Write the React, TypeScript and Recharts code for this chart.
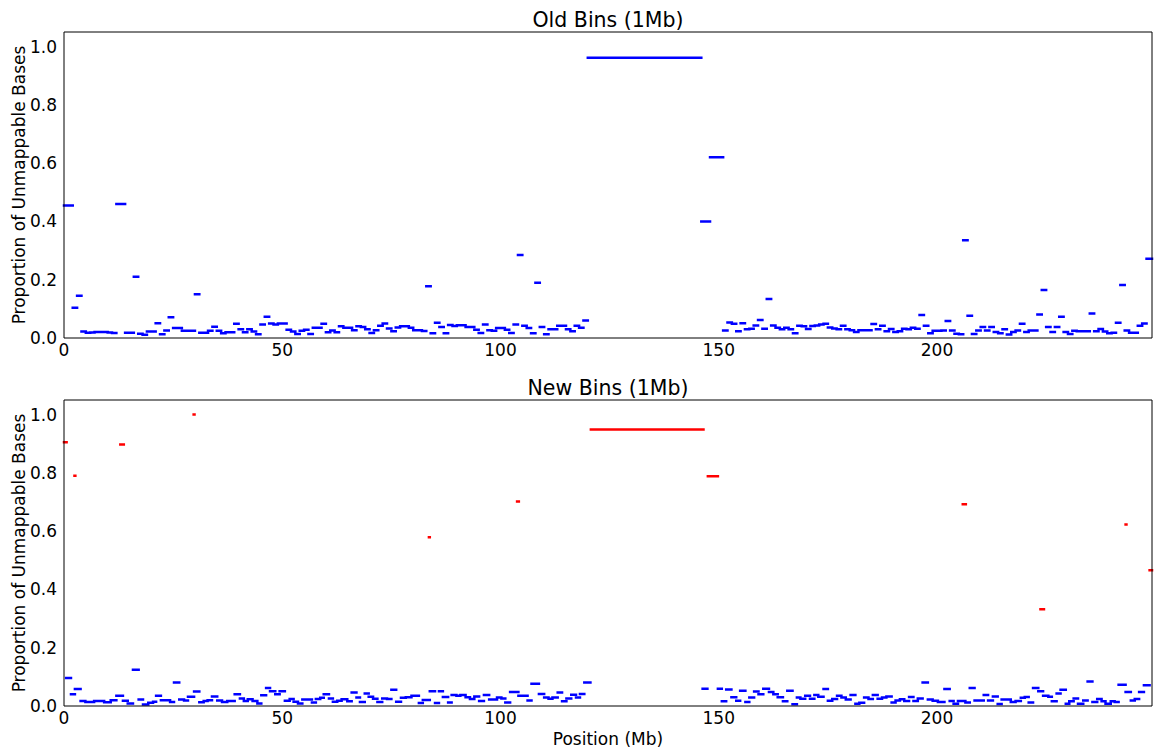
import React from 'react';
import { LineChart, Line, XAxis, YAxis } from 'recharts';

// chromosome 1 length in Mb
const CHROM_END = 249.25;

const xTicks = [0, 50, 100, 150, 200];
const yTicks = [0, 0.2, 0.4, 0.6, 0.8, 1.0];

// old 1Mb bins, p-arm side, bin i covers [i, i+1)
const oldLeftValues = [
  0.455, 0.455, 0.104, 0.145, 0.022, 0.018, 0.019, 0.021, 0.021, 0.021,
  0.019, 0.017, 0.46, 0.46, 0.018, 0.018, 0.21, 0.015, 0.011, 0.022,
  0.022, 0.051, 0.013, 0.026, 0.071, 0.034, 0.034, 0.025, 0.025, 0.025,
  0.15, 0.018, 0.018, 0.025, 0.039, 0.025, 0.016, 0.02, 0.02, 0.049,
  0.03, 0.02, 0.03, 0.022, 0.013, 0.046, 0.073, 0.05, 0.046, 0.05,
  0.05, 0.028, 0.022, 0.014, 0.025, 0.028, 0.014, 0.035, 0.035, 0.049,
  0.02, 0.026, 0.02, 0.04, 0.035, 0.035, 0.027, 0.04, 0.038, 0.03,
  0.017, 0.027, 0.042, 0.05, 0.033, 0.023, 0.036, 0.04, 0.04, 0.035,
  0.027, 0.027, 0.024, 0.178, 0.016, 0.052, 0.038, 0.016, 0.045, 0.041,
  0.044, 0.044, 0.038, 0.038, 0.028, 0.017, 0.046, 0.027, 0.025, 0.034,
  0.034, 0.028, 0.017, 0.046, 0.285, 0.042, 0.034, 0.016, 0.19, 0.038,
  0.013, 0.03, 0.03, 0.042, 0.042, 0.03, 0.023, 0.042, 0.035, 0.06,
];

// centromere / heterochromatin block
const oldGapStart = 120;
const oldGapEnd = 146;
const oldGapValue = 0.962;

// old 1Mb bins, q-arm side, starting at 146 Mb
const OLD_RIGHT_START = 146;
const oldRightValues = [
  0.40, 0.40, 0.62, 0.62, 0.62,
  0.026, 0.053, 0.049, 0.023, 0.051, 0.03, 0.032, 0.043, 0.062, 0.032,
  0.134, 0.043, 0.035, 0.03, 0.035, 0.03, 0.016, 0.042, 0.04, 0.031,
  0.041, 0.043, 0.046, 0.049, 0.036, 0.033, 0.03, 0.042, 0.03, 0.027,
  0.021, 0.027, 0.027, 0.027, 0.048, 0.03, 0.042, 0.023, 0.031, 0.021,
  0.023, 0.032, 0.03, 0.035, 0.032, 0.079,
  0.042, 0.016, 0.025, 0.025, 0.026, 0.058, 0.026, 0.015, 0.013, 0.335,
  0.076, 0.014, 0.026, 0.038, 0.026, 0.038, 0.021, 0.016, 0.03, 0.012,
  0.021, 0.026, 0.049, 0.021, 0.026, 0.026, 0.081, 0.165, 0.038, 0.021,
  0.038, 0.073, 0.021, 0.014, 0.025, 0.023, 0.023, 0.023, 0.084, 0.023,
  0.031, 0.022, 0.016, 0.018, 0.052, 0.182, 0.026, 0.018, 0.018, 0.042,
  0.05, 0.272, 0.272,
];

// new variable-size bins: each runs from its start to the next start (null = no bin)
const newBinStarts = [
  0.5, 1.6, 2.5, 3.8, 4.9, 6.9, 9.2, 10.7, 12.0, 13.5,
  14.6, 15.8, 17.1, 18.1, 19.3, 20.4, 21.1, 22.2, 24.3, 25.2,
  26.4, 27.5, 28.4, 29.8, 31.0, 32.0, 32.9, 33.9, 35.1, 36.2,
  37.4, 39.1, 40.3, 41.2, 42.1, 43.2, 44.3, 45.2, 46.3, 47.2,
  48.4, 49.4, 50.6, 51.7, 52.6, 53.6, 54.6, 56.8, 57.7, 58.7,
  59.5, 60.7, 61.6, 62.6, 63.6, 64.9, 65.9, 67.0, 67.8, 68.9,
  69.8, 70.8, 71.8, 72.9, 74.0, 75.0, 76.1, 77.2, 78.3, 79.6,
  81.3, 82.2, 83.8, 85.0, 85.9, 86.8, 88.0, 88.8, 89.9, 90.8,
  92.0, 93.0, 94.0, 95.1, 96.2, 97.4, 99.2, 100.2, 101.1, 102.2,
  104.1, 106.2, 107.1, 108.8, 110.0, 111.0, 111.9, 113.1, 114.1, 115.1,
  116.2, 117.3, 118.2, 119.2, 120.6, 146.3, 147.4, 149.8, 150.7, 151.7,
  152.9, 154.0, 154.9, 156.1, 157.0, 158.1, 159.1, 160.2, 161.5, 162.5,
  163.5, 164.7, 165.7, 166.9, 167.9, 168.7, 169.8, 170.9, 171.9, 172.8,
  174.0, 175.0, 176.0, 177.1, 178.1, 179.1, 180.2, 181.3, 182.2, 183.3,
  184.3, 185.3, 186.4, 187.4, 188.4, 189.6, 190.5, 191.5, 192.5, 193.6,
  194.6, 195.6, 196.7, 197.9, 199.0, 200.2, 201.7, 202.9, 203.8, 204.8,
  206.5, 207.5, 208.6, 210.7, 211.7, 212.8, 213.9, 214.8, 216.9, 218.0,
  219.2, 220.1, 221.0, 222.0, 223.2, 224.3, 225.5, 226.3, 227.4, 228.3,
  229.5, 230.3, 231.3, 232.3, 233.5, 234.5, 235.6, 236.7, 237.7, 238.6,
  239.8, 240.7, 241.6, 243.2, 244.4, 245.3, 246.3, 247.4, 248.7,
];

const newBinValues: (number | null)[] = [
  0.096, 0.04, 0.058, 0.017, 0.014, 0.017, 0.013, 0.02, 0.035, 0.018,
  0.009, 0.124, 0.022, 0.005, 0.011, 0.015, 0.035, 0.02, 0.014, 0.081,
  0.022, 0.019, 0.032, 0.05, 0.013, 0.017, 0.02, 0.033, 0.019, 0.014,
  0.017, 0.04, 0.026, 0.017, 0.023, 0.017, 0.009, 0.037, 0.062, 0.051,
  0.04, 0.051, 0.018, 0.024, 0.015, 0.009, 0.022, 0.012, 0.024, 0.028,
  0.04, 0.026, 0.015, 0.018, 0.023, 0.016, 0.046, 0.029, 0.014, 0.043,
  0.032, 0.025, 0.014, 0.026, 0.024, 0.056, 0.015, 0.028, 0.03, 0.035,
  0.01, 0.021, 0.051, 0.01, 0.051, 0.031, 0.012, 0.038, 0.035, 0.038,
  0.03, 0.024, 0.033, 0.017, 0.038, 0.022, 0.029, 0.026, 0.012, 0.048,
  0.035, 0.019, 0.076, 0.041, 0.029, 0.025, 0.029, 0.046, 0.016, 0.026,
  0.039, 0.029, 0.041, 0.081, null, 0.059, null, 0.059, 0.016, 0.057,
  0.03, 0.018, 0.052, 0.014, 0.029, 0.05, 0.04, 0.059, 0.048, 0.04,
  0.03, 0.016, 0.052, 0.006, 0.029, 0.025, 0.035, 0.025, 0.038, 0.032,
  0.058, 0.018, 0.024, 0.035, 0.029, 0.022, 0.038, 0.008, 0.011, 0.029,
  0.024, 0.038, 0.025, 0.029, 0.033, 0.012, 0.019, 0.023, 0.017, 0.031,
  0.017, 0.026, 0.081, 0.022, 0.018, 0.014, 0.058, 0.017, 0.008, 0.017,
  0.012, 0.062, 0.019, 0.038, 0.019, 0.033, 0.007, 0.022, 0.014, 0.017,
  0.028, 0.031, 0.012, 0.062, 0.051, 0.035, 0.032, 0.016, 0.043, 0.056,
  0.008, 0.016, 0.026, 0.008, 0.019, 0.084, 0.014, 0.024, 0.016, 0.008,
  0.016, 0.014, 0.073, 0.048, 0.019, 0.024, 0.048, 0.071, null,
];

// flagged new bins, drawn in red
const flaggedStarts = [0, 2.4, 12.9, 29.7, 83.6, 103.8, 120.7, 147.5, 205.9, 223.7, 243.2, 248.7];
const flaggedEnds = [0.6, 2.6, 13.7, 29.9, 83.8, 104.2, 146.5, 149.8, 206.6, 224.5, 243.4, 249.25];
const flaggedValues = [0.905, 0.79, 0.897, 1.0, 0.579, 0.702, 0.949, 0.788, 0.692, 0.332, 0.623, 0.466];

const FONT = '"DejaVu Sans", sans-serif';
const BLUE = '#0000ff';
const RED = '#ff0000';

type Seg = [number, number, number];
type Row = { x: number; [k: string]: number | null };

// two points per bin plus a null so neighbouring bins are not joined
function segRows(segs: Seg[], key: string): Row[] {
  const rows: Row[] = [];
  segs.forEach(([s, e, v]) => {
    rows.push({ x: s, [key]: v }, { x: e, [key]: v }, { x: e, [key]: null });
  });
  return rows;
}

const oldSegs: Seg[] = [
  ...oldLeftValues.map((v, i): Seg => [i, i + 1, v]),
  [oldGapStart, oldGapEnd, oldGapValue],
  ...oldRightValues.map((v, i): Seg => [
    OLD_RIGHT_START + i,
    Math.min(OLD_RIGHT_START + i + 1, CHROM_END),
    v,
  ]),
];

const newSegs: Seg[] = [];
newBinValues.forEach((v, i) => {
  if (v !== null) newSegs.push([newBinStarts[i], newBinStarts[i + 1], v]);
});

const flaggedSegs: Seg[] = flaggedValues.map((v, i): Seg => [flaggedStarts[i], flaggedEnds[i], v]);

const oldRows = segRows(oldSegs, 'old');
const newRows = [...segRows(newSegs, 'blue'), ...segRows(flaggedSegs, 'red')];

const tickStyle = { fill: '#000', fontSize: 17, fontFamily: FONT };
const frame = { stroke: '#000', strokeWidth: 1 };

const Panel = ({ rows, top, children }: { rows: Row[]; top: number; children: React.ReactNode }) => (
  <div style={{ position: 'absolute', left: 0, top }}>
    <LineChart width={1154} height={370} data={rows} margin={{ top: 32, right: 2, bottom: 0, left: 0 }}>
      <XAxis
        dataKey="x"
        type="number"
        domain={[0, CHROM_END]}
        ticks={xTicks}
        interval={0}
        height={32}
        axisLine={false}
        tickLine={false}
        tickSize={0}
        tickMargin={6}
        tick={tickStyle}
      />
      <XAxis xAxisId="frameTop" orientation="top" mirror type="number" domain={[0, CHROM_END]} ticks={xTicks}
        interval={0} tick={false} tickSize={5} axisLine={frame} tickLine={frame} />
      <XAxis xAxisId="frameBottom" orientation="bottom" mirror type="number" domain={[0, CHROM_END]} ticks={xTicks}
        interval={0} tick={false} tickSize={5} axisLine={frame} tickLine={frame} />
      <YAxis
        type="number"
        domain={[0, 1.05]}
        ticks={yTicks}
        interval={0}
        width={64}
        axisLine={false}
        tickLine={false}
        tickSize={0}
        tickMargin={7}
        tick={tickStyle}
        tickFormatter={(v: number) => v.toFixed(1)}
      />
      <YAxis yAxisId="frameLeft" orientation="left" mirror type="number" domain={[0, 1.05]} ticks={yTicks}
        interval={0} tick={false} tickSize={5} axisLine={frame} tickLine={frame} />
      <YAxis yAxisId="frameRight" orientation="right" mirror type="number" domain={[0, 1.05]} ticks={yTicks}
        interval={0} tick={false} tickSize={5} axisLine={frame} tickLine={frame} />
      {children}
    </LineChart>
  </div>
);

const App = () => (
  <div style={{ position: 'absolute', left: 0, top: 0, width: 1154, height: 751, background: '#fff', fontFamily: FONT }}>
    <Panel rows={oldRows} top={0}>
      <Line dataKey="old" stroke={BLUE} strokeWidth={2.5} strokeLinecap="square" dot={false}
        activeDot={false} connectNulls={false} isAnimationActive={false} />
    </Panel>
    <Panel rows={newRows} top={368}>
      <Line dataKey="blue" stroke={BLUE} strokeWidth={2.5} strokeLinecap="square" dot={false}
        activeDot={false} connectNulls={false} isAnimationActive={false} />
      <Line dataKey="red" stroke={RED} strokeWidth={2.5} strokeLinecap="square" dot={false}
        activeDot={false} connectNulls={false} isAnimationActive={false} />
    </Panel>
    <svg width={1154} height={751} style={{ position: 'absolute', left: 0, top: 0, pointerEvents: 'none' }}>
      <g fontFamily={FONT} fill="#000">
        <text x={608} y={27} textAnchor="middle" fontSize={20.5}>Old Bins (1Mb)</text>
        <text x={608} y={395} textAnchor="middle" fontSize={20.5}>New Bins (1Mb)</text>
        <text x={608} y={745} textAnchor="middle" fontSize={17}>Position (Mb)</text>
        <text x={25} y={185} textAnchor="middle" fontSize={17} transform="rotate(-90 25 185)">
          Proportion of Unmappable Bases
        </text>
        <text x={25} y={553} textAnchor="middle" fontSize={17} transform="rotate(-90 25 553)">
          Proportion of Unmappable Bases
        </text>
      </g>
    </svg>
  </div>
);

export default App;
